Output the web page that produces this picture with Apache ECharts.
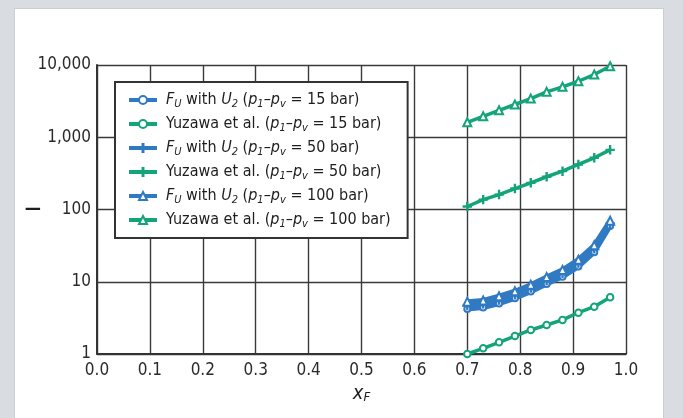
<!DOCTYPE html>
<html>
<head>
<meta charset="utf-8">
<script src="https://cdn.jsdelivr.net/npm/echarts@6/dist/echarts.min.js"></script>
<style>
  html, body { margin: 0; padding: 0; background: #d9dde2; }
  #panel { position: absolute; left: 14px; top: 8px; width: 648px; height: 420px; background: #fff; border: 1px solid #c9ced3; }
  #chart { position: absolute; left: 0; top: 0; width: 683px; height: 418px; }
</style>
</head>
<body>
<div id="panel"></div>
<div id="chart"></div>
<script>
(function(){

  'use strict'

  var FONT = "'Liberation Sans Narrow', 'DejaVu Sans Condensed', sans-serif";
  var BLUE = '#2f7ac3';
  var GREEN = '#14a47a';

  /************************ DATA *************************/
  var xF = [0.70, 0.73, 0.76, 0.79, 0.82, 0.85, 0.88, 0.91, 0.94, 0.97];
  var fu15 = [4.2, 4.4, 5.0, 5.9, 7.3, 9.3, 11.7, 16.2, 25.6, 59];
  var yu15 = [1.0, 1.2, 1.45, 1.77, 2.15, 2.52, 2.96, 3.73, 4.52, 6.1];
  var fu50 = [4.7, 4.95, 5.6, 6.6, 8.2, 10.4, 13.1, 18.1, 28.5, 64];
  var yu50 = [110, 137, 161, 195, 234, 284, 339, 420, 520, 670];
  var fu100 = [5.3, 5.5, 6.3, 7.4, 9.1, 11.6, 14.6, 20.2, 32, 70];
  var yu100 = [1610, 1950, 2360, 2840, 3430, 4250, 4990, 5960, 7380, 9610];

  var xTicks = ['0.0', '0.1', '0.2', '0.3', '0.4', '0.5', '0.6', '0.7', '0.8', '0.9', '1.0'];
  var yTicks = { 1: '1', 10: '10', 100: '100', 1000: '1,000', 10000: '10,000' };

  var legendText = {
    fu15: '{i|F}{s|U} with {i|U}{s|2} ({i|p}{s|1}–{i|p}{s|v} = 15 bar)',
    yu15: 'Yuzawa et al. ({i|p}{s|1}–{i|p}{s|v} = 15 bar)',
    fu50: '{i|F}{s|U} with {i|U}{s|2} ({i|p}{s|1}–{i|p}{s|v} = 50 bar)',
    yu50: 'Yuzawa et al. ({i|p}{s|1}–{i|p}{s|v} = 50 bar)',
    fu100: '{i|F}{s|U} with {i|U}{s|2} ({i|p}{s|1}–{i|p}{s|v} = 100 bar)',
    yu100: 'Yuzawa et al. ({i|p}{s|1}–{i|p}{s|v} = 100 bar)'
  };

  var PLUS = 'path://M4.4,0H5.6V4.4H10V5.6H5.6V10H4.4V5.6H0V4.4H4.4Z';

  function pairs(ys) {
    return xF.map(function(x, i){ return [x, ys[i]]; });
  }

  function line(name, ys, color, symbol, size, width) {
    return {
      name: name,
      type: 'line',
      data: pairs(ys),
      symbol: symbol,
      symbolSize: size,
      lineStyle: { color: color, width: width },
      itemStyle: { color: color, borderColor: color, borderWidth: 1.4 },
      emphasis: { disabled: true },
      z: 3
    };
  }

  var chartdata = [
    line('fu15', fu15, BLUE, 'emptyCircle', 6, 5),
    line('yu15', yu15, GREEN, 'emptyCircle', 6.5, 3.5),
    line('fu50', fu50, BLUE, PLUS, 8, 5),
    line('yu50', yu50, GREEN, PLUS, 8, 3.5),
    line('fu100', fu100, BLUE, 'emptyTriangle', 8, 5),
    line('yu100', yu100, GREEN, 'emptyTriangle', 8, 3.5)
  ];

  var chart = document.getElementById('chart');
  var lineChart = echarts.init(chart);

  var sub = { fontFamily: FONT, fontSize: 11, fontStyle: 'italic', lineHeight: 11, verticalAlign: 'bottom', color: '#1e1e1e' };
  var ital = { fontFamily: FONT, fontSize: 16, fontStyle: 'italic', lineHeight: 20, color: '#1e1e1e' };

  var option = {
    animation: false,
    grid: {
      top: 65,
      right: 57,
      bottom: 64,
      left: 97
    },
    legend: {
      orient: 'vertical',
      left: 115,
      top: 82,
      padding: [8, 17, 8, 12],
      itemGap: 4,
      itemWidth: 28,
      itemHeight: 10,
      backgroundColor: '#fff',
      borderColor: '#333',
      borderWidth: 2,
      borderRadius: 0,
      lineStyle: { width: 4 },
      data: ['fu15', 'yu15', 'fu50', 'yu50', 'fu100', 'yu100'],
      formatter: function(name) { return legendText[name]; },
      textStyle: {
        fontFamily: FONT,
        fontSize: 16,
        lineHeight: 20,
        color: '#1e1e1e',
        padding: [0, 0, 0, 4],
        rich: { i: ital, s: sub }
      }
    },
    xAxis: {
      type: 'value',
      min: 0,
      max: 1,
      interval: 0.1,
      name: '{i|x}{s|F}',
      nameLocation: 'middle',
      nameGap: 30,
      nameTextStyle: {
        rich: {
          i: { fontFamily: FONT, fontSize: 20, fontStyle: 'italic', lineHeight: 20, color: '#1e1e1e' },
          s: { fontFamily: FONT, fontSize: 13, fontStyle: 'italic', lineHeight: 12, verticalAlign: 'bottom', color: '#1e1e1e' }
        }
      },
      axisLine: { lineStyle: { color: '#333', width: 2 } },
      axisTick: { show: false },
      splitLine: { lineStyle: { color: '#3a3a3a', width: 1.4 } },
      axisLabel: {
        fontFamily: FONT,
        fontSize: 17,
        color: '#2a2a2a',
        margin: 8,
        formatter: function(v) { return xTicks[Math.round(v * 10)]; }
      }
    },
    yAxis: {
      type: 'log',
      logBase: 10,
      min: 1,
      max: 10000,
      name: '—',
      nameLocation: 'middle',
      nameRotate: 0,
      nameGap: 56,
      nameMoveOverlap: false,
      nameTextStyle: { fontFamily: FONT, fontSize: 18, fontWeight: 'bold', color: '#1e1e1e', padding: [4, 0, 0, 0] },
      axisLine: { lineStyle: { color: '#333', width: 2 } },
      axisTick: { show: false },
      splitLine: { lineStyle: { color: '#3a3a3a', width: 1.4 } },
      axisLabel: {
        fontFamily: FONT,
        fontSize: 17,
        color: '#2a2a2a',
        margin: 6,
        formatter: function(v) { return yTicks[Math.round(v)] || ''; }
      }
    },
    series: chartdata
  };

  lineChart.setOption(option);

})();
</script>
</body>
</html>
